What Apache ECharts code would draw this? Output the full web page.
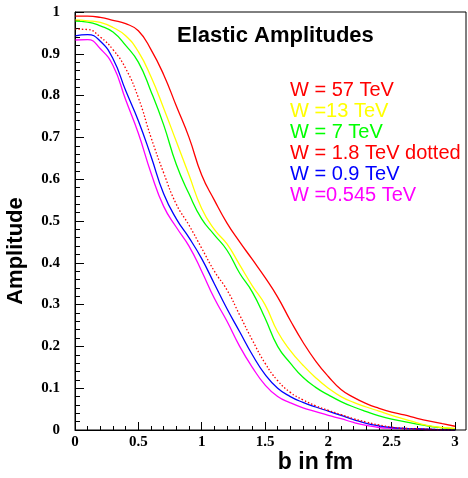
<!DOCTYPE html>
<html>
<head>
<meta charset="utf-8">
<script src="https://cdn.jsdelivr.net/npm/echarts@6/dist/echarts.min.js"></script>
<style>
html,body{margin:0;padding:0;background:#fff;}
#chart{width:468px;height:478px;}
</style>
</head>
<body>
<div id="chart"></div>
<script>
// ---- data ----
const titleText = 'Elastic Amplitudes';
const xAxisTitle = 'b in fm';
const yAxisTitle = 'Amplitude';
const seriesNames = ['W = 57 TeV', 'W =13 TeV', 'W = 7 TeV', 'W = 1.8 TeV dotted', 'W = 0.9 TeV', 'W =0.545 TeV'];
const seriesColors = ['#ff0000', '#ffff00', '#00ff00', '#ff0000', '#0000ff', '#ff00ff'];
const bValues = [0, 0.1, 0.2, 0.3, 0.4, 0.5, 0.6, 0.7, 0.8, 0.9, 1.0, 1.1, 1.2, 1.3, 1.4, 1.5, 1.6, 1.7, 1.8, 1.9, 2.0, 2.1, 2.2, 2.3, 2.4, 2.5, 2.6, 2.7, 2.8, 2.9, 3.0];
const amp57 = [0.990, 0.990, 0.987, 0.980, 0.972, 0.955, 0.91, 0.85, 0.775, 0.70, 0.61, 0.55, 0.495, 0.45, 0.408, 0.365, 0.318, 0.262, 0.21, 0.165, 0.128, 0.097, 0.078, 0.063, 0.052, 0.043, 0.036, 0.028, 0.021, 0.015, 0.009];
const amp13 = [0.981, 0.979, 0.975, 0.963, 0.943, 0.905, 0.845, 0.77, 0.69, 0.61, 0.53, 0.48, 0.445, 0.395, 0.345, 0.30, 0.235, 0.19, 0.155, 0.125, 0.10, 0.08, 0.066, 0.055, 0.045, 0.035, 0.026, 0.017, 0.01, 0.006, 0.004];
const amp7 = [0.978, 0.976, 0.967, 0.952, 0.92, 0.88, 0.81, 0.73, 0.635, 0.565, 0.505, 0.467, 0.43, 0.375, 0.33, 0.268, 0.20, 0.16, 0.126, 0.102, 0.084, 0.068, 0.055, 0.044, 0.034, 0.026, 0.02, 0.014, 0.009, 0.005, 0.003];
const amp18 = [0.959, 0.958, 0.94, 0.91, 0.865, 0.795, 0.70, 0.615, 0.54, 0.49, 0.435, 0.38, 0.335, 0.275, 0.215, 0.16, 0.118, 0.09, 0.072, 0.058, 0.047, 0.037, 0.027, 0.019, 0.012, 0.007, 0.004, 0.003, 0.002, 0.001, 0.001];
const amp09 = [0.943, 0.946, 0.93, 0.888, 0.812, 0.74, 0.655, 0.565, 0.505, 0.46, 0.41, 0.35, 0.29, 0.235, 0.18, 0.133, 0.10, 0.08, 0.066, 0.055, 0.045, 0.035, 0.025, 0.016, 0.01, 0.006, 0.004, 0.003, 0.002, 0.001, 0.001];
const amp0545 = [0.933, 0.934, 0.912, 0.872, 0.79, 0.71, 0.615, 0.535, 0.485, 0.44, 0.38, 0.315, 0.26, 0.20, 0.15, 0.108, 0.08, 0.065, 0.053, 0.044, 0.035, 0.027, 0.018, 0.011, 0.006, 0.004, 0.003, 0.002, 0.001, 0.001, 0.001];
const allAmps = [amp57, amp13, amp7, amp18, amp09, amp0545];
const dottedIndex = 3;

// ---- chart ----
const chart = echarts.init(document.getElementById('chart'), null, {renderer: 'canvas'});
const labelFont = {fontFamily: 'Liberation Serif', fontWeight: 'bold', fontSize: 15, color: '#000'};

const series = allAmps.map((arr, i) => ({
  name: seriesNames[i],
  type: 'line',
  data: bValues.map((b, k) => [b, arr[k]]),
  showSymbol: false,
  smooth: 0.5,
  clip: false,
  z: 10 - i,
  lineStyle: {
    color: seriesColors[i],
    width: 1.3,
    type: i === dottedIndex ? [1.5, 2] : 'solid'
  },
  itemStyle: {color: seriesColors[i]}
}));

const legendGraphics = seriesNames.map((name, i) => ({
  type: 'text',
  left: 290,
  top: 80 + i * 21.1,
  z: 100,
  style: {
    text: name,
    fill: seriesColors[i],
    font: 'normal 20px "Liberation Sans"'
  }
}));

chart.setOption({
  animation: false,
  backgroundColor: '#fff',
  grid: {left: 75, right: 13, top: 12, bottom: 48, containLabel: false},
  xAxis: {
    type: 'value',
    min: 0,
    max: 3,
    interval: 0.5,
    axisLine: {show: true, onZero: false, lineStyle: {color: '#000', width: 1}},
    axisTick: {show: true, inside: true, length: 8, lineStyle: {color: '#000', width: 1}},
    minorTick: {show: true, splitNumber: 5, length: 4, lineStyle: {color: '#000', width: 1}},
    splitLine: {show: false},
    axisLabel: Object.assign({margin: 5, formatter: v => String(v)}, labelFont)
  },
  yAxis: {
    type: 'value',
    min: 0,
    max: 1,
    interval: 0.1,
    axisLine: {show: true, lineStyle: {color: '#000', width: 1}},
    axisTick: {show: true, inside: true, length: 9, lineStyle: {color: '#000', width: 1}},
    minorTick: {show: true, splitNumber: 5, length: 5, lineStyle: {color: '#000', width: 1}},
    splitLine: {show: false},
    axisLabel: Object.assign({margin: 15, formatter: v => String(Math.round(v * 10) / 10)}, labelFont)
  },
  series: series,
  graphic: [
    {
      type: 'rect',
      shape: {x: 75, y: 12, width: 391, height: 418},
      style: {fill: 'none', stroke: '#000', lineWidth: 1},
      z: 50,
      silent: true
    },
    {
      type: 'text',
      left: 177,
      top: 25,
      z: 100,
      style: {text: titleText, fill: '#000', font: 'bold 22px "Liberation Sans"'}
    },
    {
      type: 'text',
      x: 315.5,
      y: 463,
      z: 100,
      style: {text: xAxisTitle, fill: '#000', font: 'bold 23px "Liberation Sans"', textAlign: 'center', textVerticalAlign: 'middle'}
    },
    {
      type: 'text',
      x: 16,
      y: 251,
      rotation: Math.PI / 2,
      z: 100,
      style: {text: yAxisTitle, fill: '#000', font: 'bold 22px "Liberation Sans"', textAlign: 'center', textVerticalAlign: 'middle'}
    }
  ].concat(legendGraphics)
});
</script>
</body>
</html>
